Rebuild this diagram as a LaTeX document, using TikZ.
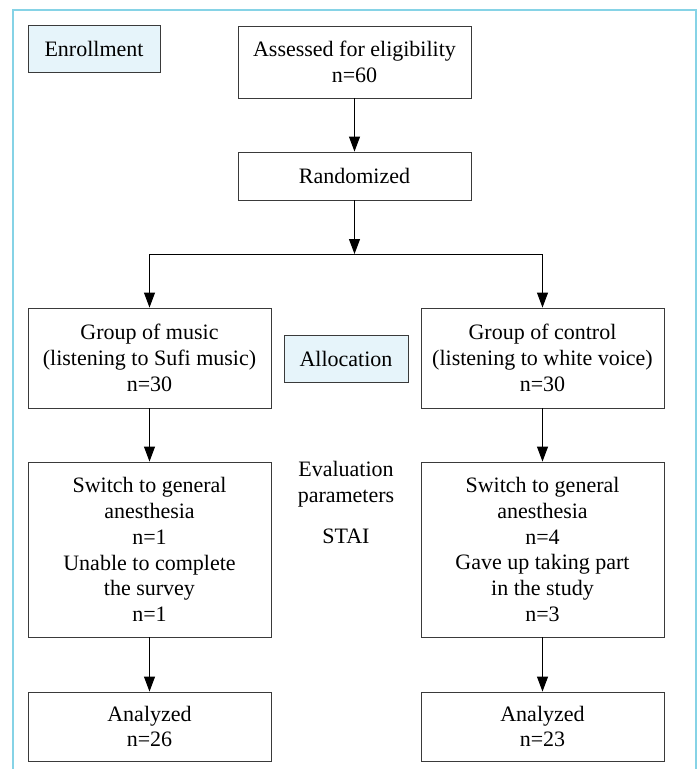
\documentclass[tikz,border=0pt]{standalone}
\usepackage{fontspec}
\setmainfont{Liberation Serif}
\usetikzlibrary{arrows.meta}
\definecolor{framecol}{HTML}{86D3E6}
\definecolor{labfill}{HTML}{E6F4FA}
\definecolor{boxline}{HTML}{3A3A3A}
\tikzset{
  flowbox/.style={draw=boxline, line width=0.9pt, rectangle, inner sep=0pt, align=center,
    font=\fontsize{22}{25.8}\selectfont},
  labbox/.style={flowbox, fill=labfill},
  plain/.style={inner sep=0pt, align=center, font=\fontsize{22}{25.8}\selectfont},
  conn/.style={draw=black, line width=1pt, -{Triangle[length=15pt,width=11pt]}},
}
\begin{document}
\begin{tikzpicture}[x=1pt,y=-1pt]
\useasboundingbox (0,0) rectangle (699,769);
% frame (open at the bottom)
\draw[framecol, line width=1.5pt] (13,769) -- (13,10) -- (696,10) -- (696,769);

\node[labbox, minimum width=132pt, minimum height=47pt] (enroll) at (94,48.5) {Enrollment};
\node[flowbox, minimum width=233pt, minimum height=72pt] (assess) at (354.5,62) {Assessed for eligibility\\n=60};
\node[flowbox, minimum width=233pt, minimum height=48pt] (rand) at (354.5,176) {Randomized};

\node[flowbox, minimum width=243pt, minimum height=100pt] (music) at (149.5,358) {Group of music\\(listening to Sufi music)\\n=30};
\node[labbox, minimum width=124pt, minimum height=47pt] (alloc) at (346,358.5) {Allocation};
\node[flowbox, minimum width=243pt, minimum height=100pt] (control) at (542.5,358) {Group of control\\(listening to white voice)\\n=30};

\node[flowbox, minimum width=243pt, minimum height=175pt] (sw1) at (149.5,549.5) {Switch to general\\anesthesia\\n=1\\Unable to complete\\the survey\\n=1};
\node[plain] (eval) at (346,484.5) {Evaluation\\parameters};
\node[plain, anchor=base] (stai) at (346,543) {STAI};
\node[flowbox, minimum width=243pt, minimum height=175pt] (sw2) at (542.5,549.5) {Switch to general\\anesthesia\\n=4\\Gave up taking part\\in the study\\n=3};

\node[flowbox, minimum width=243pt, minimum height=69pt] (an1) at (149.5,726.5) {Analyzed\\n=26};
\node[flowbox, minimum width=243pt, minimum height=69pt] (an2) at (542.5,726.5) {Analyzed\\n=23};

\coordinate (split) at (354.5,254);
\draw[conn] (assess) -- (rand);
\draw[conn] (rand) -- (split);
\draw[conn] (split) -| (music.north);
\draw[conn] (split) -| (control.north);
\draw[conn] (music) -- (sw1);
\draw[conn] (control) -- (sw2);
\draw[conn] (sw1) -- (an1);
\draw[conn] (sw2) -- (an2);
\end{tikzpicture}
\end{document}
